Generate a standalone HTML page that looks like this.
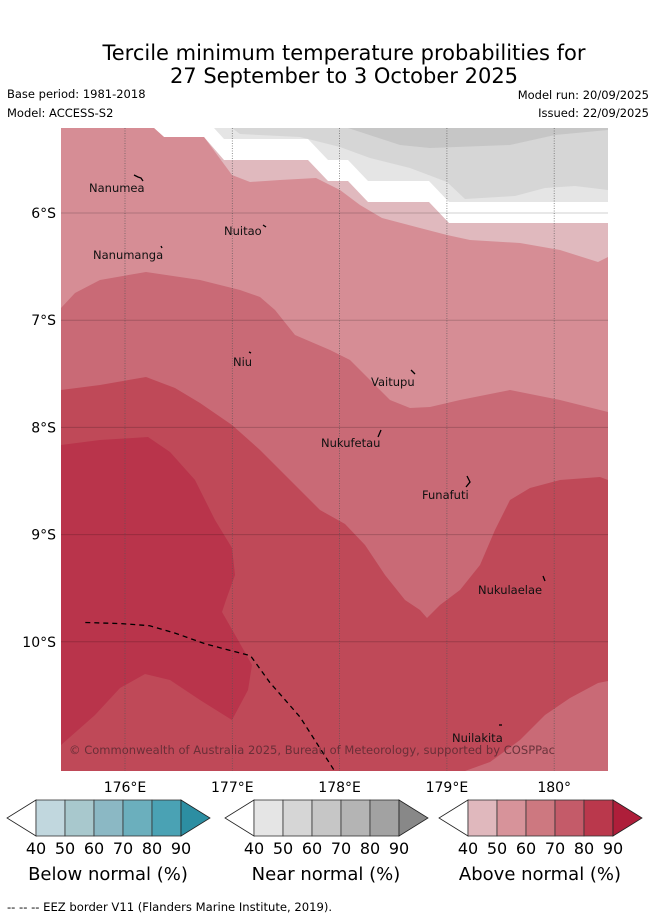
<!DOCTYPE html>
<html><head><meta charset="utf-8"><style>
body{margin:0;background:#fff;width:655px;height:919px;overflow:hidden;font-family:"Liberation Sans","DejaVu Sans",sans-serif}
svg text{font-family:"DejaVu Sans","Liberation Sans",sans-serif}
</style></head><body>
<svg id="s" width="655" height="919" viewBox="0 0 655 919" xmlns="http://www.w3.org/2000/svg">
<text x="344" y="60" font-size="21" text-anchor="middle">Tercile minimum temperature probabilities for</text>
<text x="344" y="83" font-size="21" text-anchor="middle">27 September to 3 October 2025</text>
<text x="7" y="98" font-size="11.5">Base period: 1981-2018</text>
<text x="7" y="117" font-size="11.5">Model: ACCESS-S2</text>
<text x="649" y="99" font-size="11.5" text-anchor="end">Model run: 20/09/2025</text>
<text x="649" y="117" font-size="11.5" text-anchor="end">Issued: 22/09/2025</text>
<defs><clipPath id="mc"><rect x="61" y="128" width="547" height="643"/></clipPath></defs>
<g id="map" clip-path="url(#mc)"></g>
<g id="axes"></g>
<g id="cbars"></g>
<text x="7" y="911" font-size="11.6">--  --  -- EEZ border V11 (Flanders Marine Institute, 2019).</text>
</svg>
<script>
const NS="http://www.w3.org/2000/svg";
const lonTicks=[176,177,178,179,180];
const lonTickLabels=["176°E","177°E","178°E","179°E","180°"];
const latTicks=[6,7,8,9,10];
const latTickLabels=["6°S","7°S","8°S","9°S","10°S"];
function X(lon){return 125+(lon-176)*107.3;}
function Y(lat){return 213+(lat-6)*107.2;}
const regions=[
 {name:"near-normal-40-50",fill:"#e5e5e5",pts:[[214,128],[608,128],[608,202],[449,202],[429,181],[368,181],[348,160],[328,160],[308,139],[224,139]]},
 {name:"near-normal-50-60",fill:"#d6d6d6",pts:[[232,128],[608,128],[608,190],[575,186],[545,188],[515,196],[465,199],[447,182],[410,168],[370,158],[340,147],[300,137],[240,134]]},
 {name:"near-normal-60-70",fill:"#c6c6c6",pts:[[348,128],[608,128],[608,130],[555,135],[510,145],[430,148],[400,145]]},
 {name:"above-normal-40-50",fill:"#e0b9be",pts:[[61,128],[154,128],[164,137],[204,137],[224,160],[308,160],[328,181],[348,181],[368,202],[429,202],[449,223],[608,223],[608,771],[61,771]]},
 {name:"above-normal-50-60",fill:"#d68d95",pts:[[61,128],[154,128],[164,137],[204,137],[232,175],[250,182],[280,180],[316,178],[340,190],[360,205],[382,218],[420,228],[447,235],[470,240],[520,243],[560,250],[598,262],[608,257],[608,771],[61,771]]},
 {name:"above-normal-60-70",fill:"#c96a76",pts:[[61,308],[75,293],[100,280],[146,272],[200,280],[240,290],[260,297],[275,310],[295,335],[330,350],[350,360],[370,380],[390,400],[410,408],[430,407],[460,400],[510,390],[560,400],[608,412],[608,771],[61,771]]},
 {name:"above-normal-60-70-patch",fill:"#c96a76",pts:[[148,315],[163,333],[147,356],[140,330]]},
 {name:"above-normal-70-80",fill:"#bf4958",pts:[[61,390],[100,385],[146,377],[175,388],[200,403],[232,425],[260,450],[290,480],[320,510],[345,524],[365,545],[385,575],[405,600],[420,610],[427,618],[440,605],[460,590],[480,565],[495,530],[510,500],[530,488],[560,480],[600,477],[608,480],[608,681],[598,683],[570,698],[545,715],[520,740],[490,762],[465,771],[61,771]]},
 {name:"above-normal-80-90",fill:"#b9344b",pts:[[61,445],[100,440],[148,437],[170,452],[195,480],[215,520],[232,548],[235,575],[226,600],[222,612],[238,640],[252,665],[248,690],[240,705],[232,720],[200,700],[170,680],[145,674],[120,688],[95,715],[61,745]]}
];
const eezLon=[175.63,175.96,176.23,176.47,176.75,177.17,177.35,177.63,177.95];
const eezLat=[9.82,9.83,9.85,9.92,10.02,10.13,10.38,10.7,11.2];
const islands=[
 {name:"Nanumea",tx:89,ty:192,m:[[134,175],[138,177],[141,178],[143,181]]},
 {name:"Nuitao",tx:224,ty:235,m:[[263,225],[266,227]]},
 {name:"Nanumanga",tx:93,ty:259,m:[[161,246],[162,248]]},
 {name:"Niu",tx:233,ty:366,m:[[249,352],[251,353]]},
 {name:"Vaitupu",tx:371,ty:386,m:[[411,370],[415,374]]},
 {name:"Nukufetau",tx:321,ty:447,m:[[381,430],[378,437]]},
 {name:"Funafuti",tx:422,ty:499,m:[[467,476],[470,482],[466,487]]},
 {name:"Nukulaelae",tx:478,ty:594,m:[[543,576],[545,581]]},
 {name:"Nuilakita",tx:452,ty:742,m:[[499,725],[502,725]]}
];
function el(tag,attrs,parent){const e=document.createElementNS(NS,tag);for(const k in attrs)e.setAttribute(k,attrs[k]);parent.appendChild(e);return e;}
const map=document.getElementById('map');
const bg=el('rect',{x:61,y:128,width:547,height:643,fill:"#fff"},map);


regions.forEach(r=>{
 const p=el('polygon',{points:r.pts.map(q=>q.join(',')).join(' '),fill:r.fill},map);
 
 
});
lonTicks.forEach(l=>{
 const g=el('line',{x1:X(l),x2:X(l),y1:128,y2:771,stroke:"#555",'stroke-width':0.8,'stroke-dasharray':'1,1.5','stroke-opacity':0.8},map);
 
 
});
latTicks.forEach(l=>{
 const g=el('line',{x1:61,x2:608,y1:Y(l),y2:Y(l),stroke:"#000",'stroke-width':1,'stroke-opacity':0.18},map);
 
 
});
const eez=el('polyline',{points:eezLon.map((l,i)=>X(l)+','+Y(eezLat[i])).join(' '),fill:"none",stroke:"#000",'stroke-width':1.3,'stroke-dasharray':'5,4'},map);


islands.forEach(is=>{
 const m=el('polyline',{points:is.m.map(q=>q.join(',')).join(' '),fill:"none",stroke:"#000",'stroke-width':1.3},map);
 
 
 const t=el('text',{x:is.tx,y:is.ty,'font-size':11.5,fill:"#111"},map);
 t.textContent=is.name;
 
 
});
const cp=el('text',{x:69,y:754,'font-size':11.5,fill:"#5a2a33",'fill-opacity':0.85,textLength:486},map);
cp.textContent="© Commonwealth of Australia 2025, Bureau of Meteorology, supported by COSPPac";


const axes=document.getElementById('axes');
lonTicks.forEach((l,i)=>{
 const t=el('text',{x:X(l),y:792,'font-size':14,'text-anchor':'middle'},axes);
 t.textContent=lonTickLabels[i];
 
 
});
latTicks.forEach((l,i)=>{
 const t=el('text',{x:56,y:Y(l)+5,'font-size':14,'text-anchor':'end'},axes);
 t.textContent=latTickLabels[i];
 
 
});
const cbTicks=["40","50","60","70","80","90"];
const cbDefs=[
 {name:"below-normal",title:"Below normal (%)",x0:36,colors:["#c1d7de","#a8c8cd","#8bb8c4","#6bafbd","#4aa2b4"],tip:"#2c8ea2"},
 {name:"near-normal",title:"Near normal (%)",x0:254,colors:["#e5e5e5","#d6d6d6","#c6c6c6","#b4b4b4","#a2a2a2"],tip:"#888888"},
 {name:"above-normal",title:"Above normal (%)",x0:468,colors:["#e0b8bd","#d7939a","#cd7880","#c45b69","#ba384c"],tip:"#ae1e3a"}
];
const cb=document.getElementById('cbars');
cbDefs.forEach(d=>{
 const g=el('g',{},cb);
 
 
 const y0=800,h=36,w=29;
 const lt=el('polygon',{points:`${d.x0},${y0} ${d.x0-29},${y0+h/2} ${d.x0},${y0+h}`,fill:"#fff",stroke:"#222",'stroke-width':0.8},g);
 
 
 d.colors.forEach((c,i)=>{
  const r=el('rect',{x:d.x0+i*w,y:y0,width:w,height:h,fill:c,stroke:"#333",'stroke-width':0.8},g);
  
  
 });
 const xe=d.x0+5*w;
 const rt=el('polygon',{points:`${xe},${y0} ${xe+29},${y0+h/2} ${xe},${y0+h}`,fill:d.tip,stroke:"#222",'stroke-width':0.8},g);
 
 
 cbTicks.forEach((v,i)=>{
  const t=el('text',{x:d.x0+i*w,y:854,'font-size':16,'text-anchor':'middle'},g);
  t.textContent=v;
  
  
 });
 const tt=el('text',{x:d.x0+72,y:880,'font-size':18,'text-anchor':'middle'},g);
 tt.textContent=d.title;
 
 
});
</script>
</body></html>
